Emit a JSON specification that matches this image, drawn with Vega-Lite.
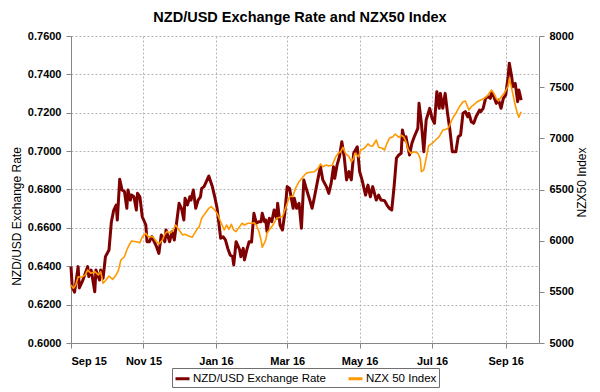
{
"$schema": "https://vega.github.io/schema/vega-lite/v6.json",
"width": 468,
"height": 307,
"autosize": "none",
"padding": {"left": 71, "top": 36, "right": 61, "bottom": 49},
"background": "white",
"title": {"text": "NZD/USD Exchange Rate and NZX50 Index", "font": "Liberation Sans", "fontSize": 14.5, "fontWeight": "bold", "color": "#000000", "offset": 5, "dx": -5},
"datasets": {
"nzd": [
{"date":"2015-09-01","rate":0.6398},{"date":"2015-09-02","rate":0.6293},{"date":"2015-09-04","rate":0.6265},{"date":"2015-09-07","rate":0.6398},{"date":"2015-09-08","rate":0.6287},{"date":"2015-09-11","rate":0.6328},{"date":"2015-09-15","rate":0.6398},{"date":"2015-09-16","rate":0.6346},{"date":"2015-09-18","rate":0.6380},{"date":"2015-09-21","rate":0.6267},{"date":"2015-09-22","rate":0.6380},{"date":"2015-09-25","rate":0.6328},{"date":"2015-09-26","rate":0.6380},{"date":"2015-09-28","rate":0.6337},{"date":"2015-09-30","rate":0.6450},
{"date":"2015-10-03","rate":0.6485},{"date":"2015-10-05","rate":0.6632},{"date":"2015-10-07","rate":0.6693},{"date":"2015-10-09","rate":0.6719},{"date":"2015-10-10","rate":0.6641},{"date":"2015-10-12","rate":0.6853},{"date":"2015-10-14","rate":0.6797},{"date":"2015-10-16","rate":0.6789},{"date":"2015-10-18","rate":0.6702},{"date":"2015-10-19","rate":0.6797},{"date":"2015-10-21","rate":0.6745},{"date":"2015-10-22","rate":0.6771},{"date":"2015-10-24","rate":0.6762},{"date":"2015-10-26","rate":0.6693},{"date":"2015-10-27","rate":0.6780},{"date":"2015-10-29","rate":0.6762},{"date":"2015-10-31","rate":0.6658},
{"date":"2015-11-03","rate":0.6615},{"date":"2015-11-04","rate":0.6528},{"date":"2015-11-06","rate":0.6528},{"date":"2015-11-08","rate":0.6554},{"date":"2015-11-10","rate":0.6528},{"date":"2015-11-12","rate":0.6502},{"date":"2015-11-14","rate":0.6467},{"date":"2015-11-16","rate":0.6563},{"date":"2015-11-19","rate":0.6528},{"date":"2015-11-20","rate":0.6589},{"date":"2015-11-23","rate":0.6528},{"date":"2015-11-25","rate":0.6580},{"date":"2015-11-27","rate":0.6537},{"date":"2015-11-29","rate":0.6632},
{"date":"2015-12-01","rate":0.6728},{"date":"2015-12-03","rate":0.6702},{"date":"2015-12-05","rate":0.6641},{"date":"2015-12-06","rate":0.6754},{"date":"2015-12-08","rate":0.6719},{"date":"2015-12-10","rate":0.6762},{"date":"2015-12-11","rate":0.6745},{"date":"2015-12-13","rate":0.6797},{"date":"2015-12-15","rate":0.6702},{"date":"2015-12-17","rate":0.6745},{"date":"2015-12-19","rate":0.6762},{"date":"2015-12-20","rate":0.6806},{"date":"2015-12-22","rate":0.6815},{"date":"2015-12-26","rate":0.6870},{"date":"2015-12-29","rate":0.6815},{"date":"2015-12-31","rate":0.6762},
{"date":"2016-01-02","rate":0.6702},{"date":"2016-01-05","rate":0.6546},{"date":"2016-01-07","rate":0.6554},{"date":"2016-01-09","rate":0.6537},{"date":"2016-01-11","rate":0.6493},{"date":"2016-01-13","rate":0.6459},{"date":"2016-01-15","rate":0.6450},{"date":"2016-01-16","rate":0.6407},{"date":"2016-01-18","rate":0.6528},{"date":"2016-01-21","rate":0.6485},{"date":"2016-01-22","rate":0.6450},{"date":"2016-01-24","rate":0.6493},{"date":"2016-01-25","rate":0.6433},{"date":"2016-01-27","rate":0.6485},{"date":"2016-01-29","rate":0.6528},{"date":"2016-01-31","rate":0.6526},
{"date":"2016-02-02","rate":0.6676},{"date":"2016-02-04","rate":0.6624},{"date":"2016-02-06","rate":0.6632},{"date":"2016-02-08","rate":0.6632},{"date":"2016-02-09","rate":0.6676},{"date":"2016-02-11","rate":0.6632},{"date":"2016-02-12","rate":0.6641},{"date":"2016-02-13","rate":0.6580},{"date":"2016-02-15","rate":0.6650},{"date":"2016-02-17","rate":0.6632},{"date":"2016-02-19","rate":0.6693},{"date":"2016-02-21","rate":0.6650},{"date":"2016-02-22","rate":0.6728},{"date":"2016-02-24","rate":0.6615},{"date":"2016-02-26","rate":0.6589},{"date":"2016-02-28","rate":0.6676},
{"date":"2016-03-01","rate":0.6815},{"date":"2016-03-03","rate":0.6806},{"date":"2016-03-06","rate":0.6702},{"date":"2016-03-07","rate":0.6754},{"date":"2016-03-09","rate":0.6702},{"date":"2016-03-11","rate":0.6728},{"date":"2016-03-13","rate":0.6598},{"date":"2016-03-15","rate":0.6850},{"date":"2016-03-17","rate":0.6806},{"date":"2016-03-20","rate":0.6745},{"date":"2016-03-22","rate":0.6702},{"date":"2016-03-24","rate":0.6762},{"date":"2016-03-27","rate":0.6858},{"date":"2016-03-29","rate":0.6919},{"date":"2016-03-31","rate":0.6850},
{"date":"2016-04-03","rate":0.6815},{"date":"2016-04-05","rate":0.6780},{"date":"2016-04-07","rate":0.6832},{"date":"2016-04-09","rate":0.6919},{"date":"2016-04-10","rate":0.6858},{"date":"2016-04-12","rate":0.6928},{"date":"2016-04-14","rate":0.6971},{"date":"2016-04-16","rate":0.7049},{"date":"2016-04-18","rate":0.6971},{"date":"2016-04-20","rate":0.6850},{"date":"2016-04-22","rate":0.6893},{"date":"2016-04-24","rate":0.6850},{"date":"2016-04-26","rate":0.6989},{"date":"2016-04-29","rate":0.7023},
{"date":"2016-05-01","rate":0.6893},{"date":"2016-05-03","rate":0.6850},{"date":"2016-05-06","rate":0.6771},{"date":"2016-05-08","rate":0.6823},{"date":"2016-05-10","rate":0.6762},{"date":"2016-05-12","rate":0.6815},{"date":"2016-05-15","rate":0.6745},{"date":"2016-05-17","rate":0.6771},{"date":"2016-05-19","rate":0.6745},{"date":"2016-05-22","rate":0.6742},{"date":"2016-05-24","rate":0.6719},{"date":"2016-05-26","rate":0.6702},{"date":"2016-05-28","rate":0.6693},{"date":"2016-05-30","rate":0.6815},
{"date":"2016-06-01","rate":0.6963},{"date":"2016-06-03","rate":0.6980},{"date":"2016-06-05","rate":0.6989},{"date":"2016-06-06","rate":0.7110},{"date":"2016-06-08","rate":0.7058},{"date":"2016-06-09","rate":0.7075},{"date":"2016-06-12","rate":0.6980},{"date":"2016-06-14","rate":0.7041},{"date":"2016-06-16","rate":0.7075},{"date":"2016-06-19","rate":0.7119},{"date":"2016-06-20","rate":0.7249},{"date":"2016-06-22","rate":0.7145},{"date":"2016-06-24","rate":0.6997},{"date":"2016-06-26","rate":0.7162},{"date":"2016-06-29","rate":0.7223},
{"date":"2016-07-01","rate":0.7171},{"date":"2016-07-03","rate":0.7145},{"date":"2016-07-05","rate":0.7310},{"date":"2016-07-07","rate":0.7223},{"date":"2016-07-08","rate":0.7301},{"date":"2016-07-10","rate":0.7223},{"date":"2016-07-12","rate":0.7301},{"date":"2016-07-14","rate":0.7197},{"date":"2016-07-16","rate":0.7110},{"date":"2016-07-18","rate":0.6997},{"date":"2016-07-21","rate":0.6997},{"date":"2016-07-23","rate":0.7075},{"date":"2016-07-25","rate":0.7084},{"date":"2016-07-27","rate":0.7197},{"date":"2016-07-29","rate":0.7206},{"date":"2016-07-31","rate":0.7179},
{"date":"2016-08-01","rate":0.7197},{"date":"2016-08-03","rate":0.7153},{"date":"2016-08-05","rate":0.7145},{"date":"2016-08-07","rate":0.7179},{"date":"2016-08-10","rate":0.7214},{"date":"2016-08-11","rate":0.7206},{"date":"2016-08-13","rate":0.7223},{"date":"2016-08-15","rate":0.7275},{"date":"2016-08-17","rate":0.7284},{"date":"2016-08-19","rate":0.7275},{"date":"2016-08-20","rate":0.7304},{"date":"2016-08-22","rate":0.7284},{"date":"2016-08-24","rate":0.7249},{"date":"2016-08-26","rate":0.7266},{"date":"2016-08-28","rate":0.7223},{"date":"2016-08-30","rate":0.7275},
{"date":"2016-09-01","rate":0.7293},{"date":"2016-09-03","rate":0.7388},{"date":"2016-09-04","rate":0.7458},{"date":"2016-09-06","rate":0.7388},{"date":"2016-09-07","rate":0.7336},{"date":"2016-09-09","rate":0.7353},{"date":"2016-09-11","rate":0.7258},{"date":"2016-09-12","rate":0.7319},{"date":"2016-09-14","rate":0.7266}
],
"nzx": [
{"date":"2015-09-01","index":5567},{"date":"2015-09-03","index":5535},{"date":"2015-09-05","index":5567},{"date":"2015-09-07","index":5648},{"date":"2015-09-10","index":5642},{"date":"2015-09-13","index":5665},{"date":"2015-09-15","index":5713},{"date":"2015-09-18","index":5681},{"date":"2015-09-21","index":5697},{"date":"2015-09-24","index":5665},{"date":"2015-09-26","index":5697},{"date":"2015-09-28","index":5583},{"date":"2015-09-30","index":5609},
{"date":"2015-10-03","index":5655},{"date":"2015-10-06","index":5622},{"date":"2015-10-09","index":5665},{"date":"2015-10-11","index":5713},{"date":"2015-10-13","index":5811},{"date":"2015-10-16","index":5843},{"date":"2015-10-18","index":5909},{"date":"2015-10-20","index":5958},{"date":"2015-10-22","index":5997},{"date":"2015-10-26","index":5990},{"date":"2015-10-29","index":5980},{"date":"2015-10-31","index":6039},
{"date":"2015-11-03","index":6072},{"date":"2015-11-05","index":6039},{"date":"2015-11-09","index":6039},{"date":"2015-11-12","index":5990},{"date":"2015-11-14","index":5967},{"date":"2015-11-17","index":6007},{"date":"2015-11-19","index":6065},{"date":"2015-11-21","index":6088},{"date":"2015-11-24","index":6078},{"date":"2015-11-26","index":6104},{"date":"2015-11-28","index":6153},
{"date":"2015-12-01","index":6104},{"date":"2015-12-04","index":6055},{"date":"2015-12-06","index":6062},{"date":"2015-12-09","index":6046},{"date":"2015-12-12","index":6033},{"date":"2015-12-14","index":6072},{"date":"2015-12-16","index":6111},{"date":"2015-12-18","index":6137},{"date":"2015-12-20","index":6219},{"date":"2015-12-23","index":6267},{"date":"2015-12-26","index":6316},{"date":"2015-12-28","index":6332},{"date":"2015-12-31","index":6300},
{"date":"2016-01-02","index":6267},{"date":"2016-01-05","index":6185},{"date":"2016-01-08","index":6104},{"date":"2016-01-10","index":6153},{"date":"2016-01-12","index":6111},{"date":"2016-01-14","index":6160},{"date":"2016-01-16","index":6104},{"date":"2016-01-18","index":6088},{"date":"2016-01-21","index":6137},{"date":"2016-01-23","index":6170},{"date":"2016-01-25","index":6153},{"date":"2016-01-28","index":6170},{"date":"2016-01-31","index":6170},
{"date":"2016-02-02","index":6176},{"date":"2016-02-04","index":6153},{"date":"2016-02-06","index":6097},{"date":"2016-02-08","index":6007},{"date":"2016-02-09","index":5935},{"date":"2016-02-12","index":6007},{"date":"2016-02-13","index":6078},{"date":"2016-02-16","index":6121},{"date":"2016-02-18","index":6153},{"date":"2016-02-21","index":6219},{"date":"2016-02-24","index":6228},{"date":"2016-02-26","index":6234},{"date":"2016-02-29","index":6332},
{"date":"2016-03-03","index":6430},{"date":"2016-03-06","index":6437},{"date":"2016-03-08","index":6512},{"date":"2016-03-11","index":6576},{"date":"2016-03-14","index":6619},{"date":"2016-03-17","index":6658},{"date":"2016-03-20","index":6668},{"date":"2016-03-24","index":6674},{"date":"2016-03-27","index":6707},{"date":"2016-03-29","index":6749},{"date":"2016-03-31","index":6723},
{"date":"2016-04-03","index":6739},{"date":"2016-04-05","index":6730},{"date":"2016-04-08","index":6739},{"date":"2016-04-11","index":6821},{"date":"2016-04-13","index":6854},{"date":"2016-04-15","index":6869},{"date":"2016-04-17","index":6912},{"date":"2016-04-19","index":6854},{"date":"2016-04-22","index":6821},{"date":"2016-04-24","index":6772},{"date":"2016-04-26","index":6805},{"date":"2016-04-27","index":6854},{"date":"2016-04-30","index":6821},
{"date":"2016-05-02","index":6886},{"date":"2016-05-05","index":6903},{"date":"2016-05-08","index":6945},{"date":"2016-05-10","index":6925},{"date":"2016-05-12","index":6925},{"date":"2016-05-15","index":6984},{"date":"2016-05-17","index":6912},{"date":"2016-05-20","index":6903},{"date":"2016-05-22","index":6886},{"date":"2016-05-24","index":6951},{"date":"2016-05-26","index":7000},{"date":"2016-05-29","index":7016},{"date":"2016-05-31","index":7042},
{"date":"2016-06-03","index":7010},{"date":"2016-06-05","index":7030},{"date":"2016-06-07","index":7016},{"date":"2016-06-09","index":6967},{"date":"2016-06-11","index":6886},{"date":"2016-06-13","index":6854},{"date":"2016-06-16","index":6869},{"date":"2016-06-19","index":6854},{"date":"2016-06-21","index":6805},{"date":"2016-06-22","index":6674},{"date":"2016-06-24","index":6691},{"date":"2016-06-26","index":6805},{"date":"2016-06-28","index":6925},
{"date":"2016-07-01","index":6951},{"date":"2016-07-04","index":6984},{"date":"2016-07-07","index":7016},{"date":"2016-07-10","index":7081},{"date":"2016-07-13","index":7088},{"date":"2016-07-15","index":7108},{"date":"2016-07-17","index":7163},{"date":"2016-07-19","index":7211},{"date":"2016-07-21","index":7245},{"date":"2016-07-24","index":7309},{"date":"2016-07-27","index":7358},{"date":"2016-07-29","index":7365},
{"date":"2016-08-01","index":7277},{"date":"2016-08-03","index":7309},{"date":"2016-08-05","index":7326},{"date":"2016-08-08","index":7358},{"date":"2016-08-11","index":7375},{"date":"2016-08-14","index":7391},{"date":"2016-08-17","index":7423},{"date":"2016-08-20","index":7472},{"date":"2016-08-22","index":7440},{"date":"2016-08-24","index":7391},{"date":"2016-08-26","index":7365},{"date":"2016-08-28","index":7401},{"date":"2016-08-31","index":7446},
{"date":"2016-09-03","index":7511},{"date":"2016-09-04","index":7587},{"date":"2016-09-06","index":7489},{"date":"2016-09-08","index":7375},{"date":"2016-09-10","index":7277},{"date":"2016-09-12","index":7206},{"date":"2016-09-14","index":7260}
]
},
"layer": [
{
"data": {"name": "nzd"},
"mark": {"type": "line", "strokeWidth": 3, "strokeJoin": "round"},
"encoding": {
"x": {"field": "date", "type": "temporal",
"scale": {"type": "utc", "domain": [{"year": 2015, "month": 9, "date": 1, "utc": true}, {"year": 2016, "month": 9, "date": 29, "utc": true}], "nice": false},
"axis": {"title": null, "format": "%b %y", "grid": true, "labelPadding": 7,
"values": [{"year": 2015, "month": 9, "date": 1, "utc": true}, {"year": 2015, "month": 11, "date": 1, "utc": true}, {"year": 2016, "month": 1, "date": 1, "utc": true}, {"year": 2016, "month": 3, "date": 1, "utc": true}, {"year": 2016, "month": 5, "date": 1, "utc": true}, {"year": 2016, "month": 7, "date": 1, "utc": true}, {"year": 2016, "month": 9, "date": 1, "utc": true}]}},
"y": {"field": "rate", "type": "quantitative",
"scale": {"domain": [0.6, 0.76], "nice": false, "zero": false},
"axis": {"title": "NZD/USD Exchange Rate", "format": ".4f", "grid": true, "labelPadding": 5,
"values": [0.6, 0.62, 0.64, 0.66, 0.68, 0.7, 0.72, 0.74, 0.76],
"titleX": -55, "titleY": 180, "titleAngle": 270, "titleAlign": "center", "titleBaseline": "middle"}},
"color": {"datum": "NZD/USD Exchange Rate", "type": "nominal",
"scale": {"domain": ["NZD/USD Exchange Rate", "NZX 50 Index"], "range": ["#7f0000", "#ff9900"]},
"legend": {"title": null, "orient": "bottom", "offset": 2, "direction": "horizontal",
"symbolType": "stroke", "symbolSize": 196, "symbolStrokeWidth": 3, "labelOffset": 2,
"labelFont": "Liberation Sans", "labelFontSize": 11.5, "labelColor": "#000000",
"columnPadding": 16, "padding": 2, "strokeColor": "#707070", "fillColor": "#ffffff"}}
}
},
{
"data": {"name": "nzx"},
"mark": {"type": "line", "strokeWidth": 1.6, "strokeJoin": "round"},
"encoding": {
"x": {"field": "date", "type": "temporal"},
"y": {"field": "index", "type": "quantitative",
"scale": {"domain": [5000, 8000], "nice": false, "zero": false},
"axis": {"title": "NZX50 Index", "format": "d", "grid": false, "orient": "right", "labelPadding": 5,
"values": [5000, 5500, 6000, 6500, 7000, 7500, 8000],
"titleX": 42, "titleY": 146, "titleAngle": 270, "titleAlign": "center", "titleBaseline": "middle"}},
"color": {"datum": "NZX 50 Index", "type": "nominal"}
}
}
],
"resolve": {"scale": {"y": "independent"}, "axis": {"y": "independent"}},
"config": {
"view": {"stroke": null},
"legend": {"layout": {"bottom": {"anchor": "middle"}}},
"axis": {"labelFont": "Liberation Sans", "labelFontSize": 11, "labelFontWeight": "bold", "labelColor": "#000000",
"titleFont": "Liberation Sans", "titleFontSize": 12, "titleFontWeight": "normal", "titleColor": "#000000",
"domainColor": "#868686", "tickColor": "#868686", "tickSize": 5, "gridColor": "#b4b4b4", "gridDash": [2, 2], "gridWidth": 1}
}
}
